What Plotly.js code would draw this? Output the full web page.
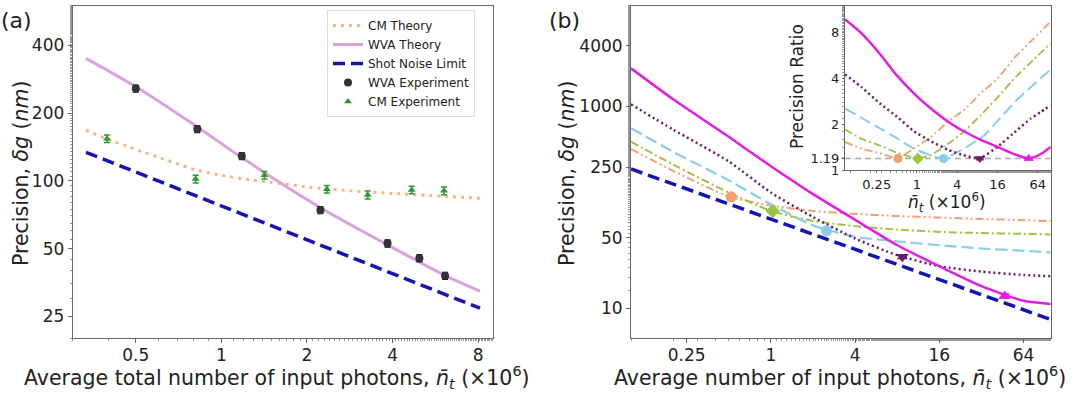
<!DOCTYPE html>
<html><head><meta charset="utf-8">
<script src="https://cdn.plot.ly/plotly-3.0.1.min.js"></script>
<style>html,body{margin:0;padding:0;background:#fff}#chart{width:1080px;height:393px}</style>
</head><body><div id="chart"></div>
<script>
// ---------- Panel (a) data ----------
const aXTicks = [0.5, 1, 2, 4, 8];
const aXTickText = ['0.5', '1', '2', '4', '8'];
const aYTicks = [25, 50, 100, 200, 400];
const aYTickText = ['25', '50', '100', '200', '400'];
const cmTheoryN = [0.334, 0.4, 0.5, 0.65, 0.81, 1, 1.27, 1.5, 2, 3, 4, 6, 8.12];
const cmTheory = [168, 153, 138, 123, 112, 106, 101, 98.5, 94, 90, 88, 85.5, 83.8];
const wvaTheoryN = [0.334, 0.5, 0.8, 1.2, 2.23, 3.84, 6.12, 8.12];
const wvaTheory = [350, 262, 178, 125, 76, 52, 38, 32.4];
const snlAN = [0.334, 8.12];
const snlA = [134, 27.2];
const wvaExpN = [0.5, 0.823, 1.18, 2.23, 3.84, 4.97, 6.12];
const wvaExp = [257, 170, 129, 74.2, 52.8, 45.4, 37.9];
const wvaExpErr = [9, 6, 4.5, 2.6, 1.9, 1.6, 1.3];
const cmExpN = [0.396, 0.812, 1.417, 2.35, 3.27, 4.67, 6.07];
const cmExp = [154, 102, 106, 91.8, 86.6, 91.1, 90.4];
const cmExpErr = [6, 4, 4, 3.5, 3.5, 3.5, 3.5];

// ---------- Panel (b) data ----------
const bXTicks = [0.25, 1, 4, 16, 64];
const bXTickText = ['0.25', '1', '4', '16', '64'];
const bYTicks = [10, 50, 250, 1000, 4000];
const bYTickText = ['10', '50', '250', '1000', '4000'];
const bN = [0.1, 0.2, 0.5, 1, 2, 4, 8, 16, 32, 64, 100];
const bMagenta = [2390, 1180, 500, 255, 135, 75, 42, 26, 16.5, 11.8, 11.0];
const bPurple = [1050, 590, 285, 140, 80, 49, 33.5, 26, 23, 21.3, 20.7];
const bBlue = [610, 355, 185, 107, 66, 51, 46, 42, 39, 37, 35.7];
const bGreen = [447, 265, 140, 92, 73, 65, 60, 57, 55.5, 54.5, 53.8];
const bOrange = [378, 230, 128, 104, 92, 86, 82, 79, 76.5, 74.5, 73];
const snlBN = [0.1, 100];
const snlB = [240, 7.7];
const optN = [0.52, 1.03, 2.5, 8.7, 46.9];
const optMain = [127, 91.7, 58.5, 32.3, 13.2];
const optErr = [4, 3, 2, 1.2, 0.6];

// ---------- Inset data (precision ratio) ----------
const inXTicks = [0.25, 1, 4, 16, 64];
const inXTickText = ['0.25', '1', '4', '16', '64'];
const inYTicks = [1, 1.19, 2, 4, 8];
const inYTickText = ['1', '1.19', '2', '4', '8'];
const rMagentaN = [0.084, 0.15, 0.28, 0.5, 0.9, 1.6, 3.33, 5, 9, 16, 30, 47, 70, 100];
const rMagenta = [9.8, 7.9, 5.8, 4.2, 3.2, 2.55, 2.0, 1.8, 1.58, 1.42, 1.26, 1.19, 1.27, 1.42];
const rPurpleN = [0.084, 0.15, 0.28, 0.5, 0.9, 1.6, 3, 5, 8.7, 16, 30, 50, 70, 100];
const rPurple = [4.26, 3.5, 2.74, 2.25, 1.8, 1.55, 1.35, 1.25, 1.19, 1.42, 1.8, 2.18, 2.4, 2.67];
const rBlueN = [0.084, 0.15, 0.28, 0.5, 0.9, 1.6, 2.5, 5, 10, 16, 30, 50, 100];
const rBlue = [2.54, 2.2, 1.88, 1.62, 1.38, 1.25, 1.19, 1.38, 1.68, 2.1, 2.85, 3.5, 4.6];
const rGreenN = [0.084, 0.15, 0.28, 0.5, 1.03, 1.6, 3, 5, 9, 16, 30, 50, 100];
const rGreen = [1.85, 1.6, 1.45, 1.3, 1.19, 1.25, 1.5, 1.78, 2.3, 3.0, 4.1, 5.1, 6.84];
const rOrangeN = [0.084, 0.15, 0.28, 0.52, 0.9, 1.6, 3, 5, 9, 16, 30, 50, 100];
const rOrange = [1.53, 1.38, 1.29, 1.19, 1.39, 1.64, 2.1, 2.47, 3.2, 4.0, 5.6, 7.0, 9.5];
const rOptimum = [1.19, 1.19, 1.19, 1.19, 1.19];
const rRefN = [0.084, 100];
const rRef = [1.19, 1.19];

// ---------- styles ----------
const FONT = 'DejaVu Sans, sans-serif';
const C = {
  cmTheory: '#f3b685', wvaTheory: '#d9a2dc', snl: '#1414b4', wvaExp: '#333333', cmExp: '#2e9a2e',
  magenta: '#e31ee3', purple: '#6b1a6b', blue: '#8ccbea', green: '#9ac443', orange: '#f2a070'
};
const bColors = [C.orange, C.green, C.blue, C.purple, C.magenta];
const bSymbols = ['circle', 'diamond', 'circle', 'triangle-down', 'triangle-up'];

function line(x, y, color, width, dash, xa, ya, name, legend, shape, smooth) {
  return {x: x, y: y, type: 'scatter', mode: 'lines', name: name || '', showlegend: !!legend,
    xaxis: xa, yaxis: ya,
    line: {color: color, width: width, dash: dash || 'solid', shape: shape || 'linear', smoothing: smooth || 0.6},
    hoverinfo: 'skip'};
}

const traces = [
  line(cmTheoryN, cmTheory, C.cmTheory, 3, '3px,5px', 'x', 'y', 'CM Theory', true, 'spline'),
  line(wvaTheoryN, wvaTheory, C.wvaTheory, 3, 'solid', 'x', 'y', 'WVA Theory', true, 'spline'),
  line(snlAN, snlA, C.snl, 3.5, '12px,6px', 'x', 'y', 'Shot Noise Limit', true),
  {x: wvaExpN, y: wvaExp, type: 'scatter', mode: 'markers', name: 'WVA Experiment', xaxis: 'x', yaxis: 'y',
   marker: {color: C.wvaExp, size: 8, symbol: 'circle'},
   error_y: {type: 'data', array: wvaExpErr, color: '#111', thickness: 1.5, width: 3}},
  {x: cmExpN, y: cmExp, type: 'scatter', mode: 'markers', name: 'CM Experiment', xaxis: 'x', yaxis: 'y',
   marker: {color: C.cmExp, size: 7, symbol: 'triangle-up'},
   error_y: {type: 'data', array: cmExpErr, color: C.cmExp, thickness: 1.5, width: 3}},

  line(bN, bOrange, C.orange, 2, '8px,3px,2px,3px,2px,3px', 'x2', 'y2', '', false, 'spline'),
  line(bN, bGreen, C.green, 2, '8px,3px,2px,3px', 'x2', 'y2', '', false, 'spline'),
  line(bN, bBlue, C.blue, 2.2, '12px,5px', 'x2', 'y2', '', false, 'spline'),
  line(bN, bPurple, C.purple, 2.5, '2px,3px', 'x2', 'y2', '', false, 'spline'),
  line(bN, bMagenta, C.magenta, 2.5, 'solid', 'x2', 'y2', '', false, 'spline'),
  line(snlBN, snlB, C.snl, 3.5, '12px,6px', 'x2', 'y2', '', false),

  line(rRefN, rRef, '#aaaaaa', 1.5, '6px,4px', 'x3', 'y3', '', false),
  line(rOrangeN, rOrange, C.orange, 1.8, '8px,3px,2px,3px,2px,3px', 'x3', 'y3', '', false, 'spline', 0.4),
  line(rGreenN, rGreen, C.green, 1.8, '8px,3px,2px,3px', 'x3', 'y3', '', false, 'spline', 0.4),
  line(rBlueN, rBlue, C.blue, 2, '12px,5px', 'x3', 'y3', '', false, 'spline', 0.4),
  line(rPurpleN, rPurple, C.purple, 2.5, '2px,3px', 'x3', 'y3', '', false, 'spline', 0.4),
  line(rMagentaN, rMagenta, C.magenta, 2.5, 'solid', 'x3', 'y3', '', false, 'spline', 0.6)
];
for (let i = 0; i < optN.length; i++) {
  traces.push({x: [optN[i]], y: [optMain[i]], type: 'scatter', mode: 'markers', showlegend: false,
    xaxis: 'x2', yaxis: 'y2', marker: {color: bColors[i], size: 11, symbol: bSymbols[i]},
    error_y: {type: 'data', array: [optErr[i]], color: bColors[i], thickness: 1.5, width: 5}, hoverinfo: 'skip'});
  traces.push({x: [optN[i]], y: [rOptimum[i]], type: 'scatter', mode: 'markers', showlegend: false,
    xaxis: 'x3', yaxis: 'y3', marker: {color: bColors[i], size: 9, symbol: bSymbols[i]},
    error_y: {type: 'data', array: [0.02], color: bColors[i], thickness: 1.5, width: 4}, hoverinfo: 'skip'});
}

const axBase = {type: 'log', showline: true, mirror: true, linecolor: '#666', linewidth: 1,
  ticks: 'outside', ticklen: 4, tickwidth: 1, tickcolor: '#666', showgrid: false, zeroline: false,
  tickfont: {family: FONT, size: 17, color: '#222'}, tickmode: 'array',
  minor: {ticks: 'outside', ticklen: 2, tickcolor: '#999', showgrid: false}};

function ann(text, x, y, size, angle) {
  return {text: text, x: x / 1080, y: 1 - y / 393, xref: 'paper', yref: 'paper', showarrow: false,
    xanchor: 'center', yanchor: 'middle', textangle: angle || 0, font: {family: FONT, size: size, color: '#222'}};
}

const layout = {
  width: 1080, height: 393, margin: {l: 0, r: 0, t: 0, b: 0},
  paper_bgcolor: '#fff', plot_bgcolor: '#fff', font: {family: FONT, color: '#222'},
  showlegend: true,
  legend: {x: 327 / 1080, y: 1 - 10 / 393, xanchor: 'left', yanchor: 'top', bgcolor: '#fff',
    bordercolor: '#ddd', borderwidth: 1, font: {family: FONT, size: 12, color: '#222'},
    tracegroupgap: 0, itemwidth: 30},
  xaxis: Object.assign({}, axBase, {domain: [72.7 / 1080, 492.7 / 1080], anchor: 'y',
    range: [Math.log10(0.3), Math.log10(9)], tickvals: aXTicks, ticktext: aXTickText, ticklabelstandoff: -3}),
  yaxis: Object.assign({}, axBase, {domain: [1 - 338.3 / 393, 1 - 5.7 / 393], anchor: 'x',
    range: [Math.log10(20), Math.log10(600)], tickvals: aYTicks, ticktext: aYTickText}),
  xaxis2: Object.assign({}, axBase, {domain: [631 / 1080, 1050.7 / 1080], anchor: 'y2',
    range: [-1, 2], tickvals: bXTicks, ticktext: bXTickText, ticklabelstandoff: -3}),
  yaxis2: Object.assign({}, axBase, {domain: [1 - 338.3 / 393, 1 - 5.7 / 393], anchor: 'x2',
    range: [0.7, 4.0], tickvals: bYTicks, ticktext: bYTickText}),
  xaxis3: Object.assign({}, axBase, {domain: [845 / 1080, 1050.7 / 1080], anchor: 'y3',
    range: [Math.log10(0.084), 2], tickvals: inXTicks, ticktext: inXTickText,
    tickfont: {family: FONT, size: 13, color: '#222'}, ticklen: 2}),
  yaxis3: Object.assign({}, axBase, {domain: [1 - 170 / 393, 1 - 5.7 / 393], anchor: 'x3',
    range: [0, 1.082], tickvals: inYTicks, ticktext: inYTickText,
    tickfont: {family: FONT, size: 13, color: '#222'}, ticklen: 2}),
  annotations: [
    ann('(a)', 16, 21, 22),
    ann('(b)', 564, 21, 22),
    ann('Precision, <i>δg</i> (<i>nm</i>)', 21, 173, 20.5, -90),
    ann('Precision, <i>δg</i> (<i>nm</i>)', 567, 173, 20.5, -90),
    ann('Average total number of input photons, <i>n\u0304</i><sub><i>t</i></sub> (×10<sup>6</sup>)', 277, 377, 20.5),
    ann('Average number of input photons, <i>n\u0304</i><sub><i>t</i></sub> (×10<sup>6</sup>)', 840, 377, 20.5),
    ann('Precision Ratio', 797, 87, 17, -90),
    ann('<i>n\u0304</i><sub><i>t</i></sub> (×10<sup>6</sup>)', 947, 202, 17)
  ]
};

Plotly.newPlot('chart', traces, layout, {staticPlot: true, displayModeBar: false});
</script>
</body></html>
